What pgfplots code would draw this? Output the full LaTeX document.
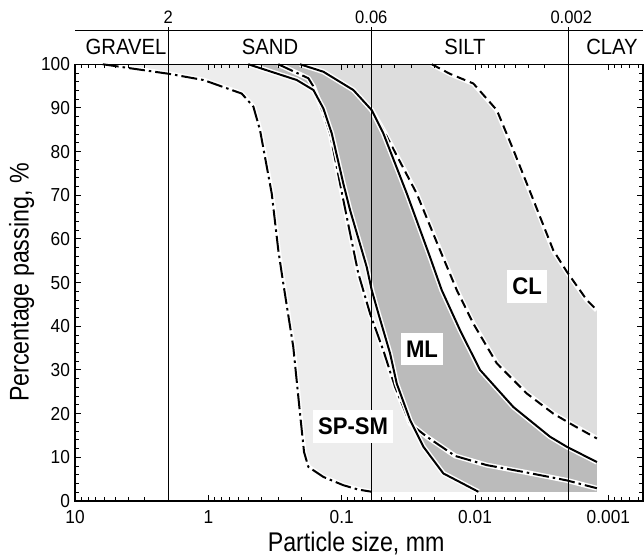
\documentclass[border=0pt]{standalone}
\usepackage{fontspec}
\setmainfont{Liberation Sans}[FakeStretch=0.92]
\newfontfamily\labfont{Liberation Sans}[FakeStretch=0.86]
\usepackage{pgfplots}
\pgfplotsset{compat=1.18}
\newcommand\ticksize{\fontsize{18.8bp}{20bp}\selectfont}
\newcommand\labsize{\labfont\fontsize{27bp}{29bp}\selectfont}
\newcommand\catsize{\fontsize{22bp}{24bp}\selectfont}
\newcommand\bndsize{\fontsize{18bp}{20bp}\selectfont}
\newcommand\boldsize{\fontsize{24bp}{26bp}\selectfont\bfseries}
\definecolor{spfill}{HTML}{EDEDED}
\definecolor{mlfill}{HTML}{BBBBBB}
\definecolor{clfill}{HTML}{DDDDDD}
\tikzset{
  halo/.style={white, line width=5bp, line join=round},
  curve/.style={black, line width=2bp, line join=round},
  dashdot/.style={dash pattern=on 16bp off 4bp on 2.5bp off 4bp},
  dashedcl/.style={dash pattern=on 9bp off 5bp},
}
\begin{document}
\begin{tikzpicture}
\begin{axis}[
  name=ax, scale only axis, width=568bp, height=436.7bp,
  xmode=log, x dir=reverse, xmin=0.00055, xmax=10, ymin=0, ymax=100,
  xtick={0.001,0.01,0.1,1,10}, xticklabels={0.001,0.01,0.1,1,10},
  minor xtick={0.0006,0.0007,0.0008,0.0009,0.002,0.003,0.004,0.005,0.006,0.007,0.008,0.009,0.02,0.03,0.04,0.05,0.06,0.07,0.08,0.09,0.2,0.3,0.4,0.5,0.6,0.7,0.8,0.9,2,3,4,5,6,7,8,9},
  ytick={0,10,...,100}, minor y tick num=4,
  tick align=inside, major tick length=6bp, minor tick length=4bp,
  every tick/.style={black, line width=0.9bp},
  axis line style={line width=1.3bp},
  clip=false, axis on top,
  ticklabel style={font=\ticksize, inner sep=1bp},
  /pgf/number format/assume math mode=true,
  xticklabel style={anchor=base, yshift=-23bp},
  yticklabel style={anchor=east, xshift=-4bp},
  xlabel={Particle size, mm}, ylabel={Percentage passing, \%},
  label style={font=\labsize},
  xlabel style={at={(axis description cs:0.495,-0.1150)}, anchor=base},
  ylabel style={at={(axis description cs:-0.0819,0.5)}, anchor=base},
]
% ---- fills ----
\addplot[fill=spfill, draw=none] coordinates {
 (6.2,100) (1.96,97.8) (1.09,96.4) (0.563,93.3) (0.46,90.3) (0.41,84.9) (0.335,70.4) (0.299,57.4) (0.277,50.6) (0.231,35.3) (0.2055,20.0) (0.1918,11.2) (0.178,7.8) (0.1374,5.5) (0.0973,3.6) (0.0751,2.6) (0.0596,2.1)
 (0.00944,2.1) (0.0173,6.3) (0.0244,12.4) (0.0307,18.5) (0.0387,26.9) (0.0434,33.8) (0.0531,42.9) (0.0596,48.3) (0.065,53.6) (0.0866,66.6) (0.0973,72.7) (0.1189,84.2) (0.1374,89.9) (0.163,94.1) (0.2176,96.4) (0.502,100)
} --cycle;
\addplot[fill=clfill, draw=none] coordinates {
 (0.2055,100) (0.1374,98.3) (0.0818,94.1) (0.0596,89.5)
 (0.0473,84.2) (0.0274,70.4) (0.0183,57.4) (0.01372,48.3) (0.0103,40.6) (0.00687,31.5) (0.00409,24.6) (0.00259,20.0) (0.00183,17.3) (0.00122,14.3)
 (0.00122,43.7) (0.00145,46.0) (0.00205,52.5) (0.00259,57.4) (0.00365,68.9) (0.00516,80.4) (0.00687,89.5) (0.0103,95.6) (0.0154,97.8) (0.0211,100)
} --cycle;
\addplot[fill=mlfill, draw=none] coordinates {
 (0.502,100) (0.2176,96.4) (0.163,94.1) (0.1374,89.9) (0.1189,84.2) (0.0973,72.7) (0.0866,66.6) (0.065,53.6) (0.0596,48.3) (0.0531,42.9) (0.0434,33.8) (0.0387,26.9) (0.0307,18.5) (0.0244,12.4) (0.0173,6.3) (0.00944,2.1)
 (0.00122,2.1) (0.00122,8.9) (0.00205,12.4) (0.00274,14.7) (0.00516,21.5) (0.00918,30.0) (0.01296,39.1) (0.0178,48.3) (0.0218,55.9) (0.0325,70.4) (0.0488,84.2) (0.0596,89.5) (0.0818,94.1) (0.1374,98.3) (0.2055,100)
} --cycle;
% ---- SP-SM curves (dash-dot) ----
\addplot[halo] coordinates {(6.2,100) (1.96,97.8) (1.09,96.4) (0.563,93.3) (0.46,90.3) (0.41,84.9) (0.335,70.4) (0.299,57.4) (0.277,50.6) (0.231,35.3) (0.2055,20.0) (0.1918,11.2) (0.178,7.8) (0.1374,5.5) (0.0973,3.6) (0.0751,2.6) (0.0596,2.1)};
\addplot[curve, dashdot] coordinates {(6.2,100) (1.96,97.8) (1.09,96.4) (0.563,93.3) (0.46,90.3) (0.41,84.9) (0.335,70.4) (0.299,57.4) (0.277,50.6) (0.231,35.3) (0.2055,20.0) (0.1918,11.2) (0.178,7.8) (0.1374,5.5) (0.0973,3.6) (0.0751,2.6) (0.0596,2.1)};
\addplot[halo] coordinates {(0.299,100) (0.178,96.8) (0.163,94.9) (0.1374,88.8) (0.1224,84.2) (0.103,72.7) (0.0866,61.3) (0.0751,52.1) (0.0613,42.9) (0.0488,34.5) (0.0398,26.1) (0.0307,17.7) (0.023,14.7) (0.0141,10.3) (0.00817,8.2) (0.00409,6.5) (0.00205,4.7) (0.00122,2.9)};
\addplot[curve, dashdot] coordinates {(0.299,100) (0.178,96.8) (0.163,94.9) (0.1374,88.8) (0.1224,84.2) (0.103,72.7) (0.0866,61.3) (0.0751,52.1) (0.0613,42.9) (0.0488,34.5) (0.0398,26.1) (0.0307,17.7) (0.023,14.7) (0.0141,10.3) (0.00817,8.2) (0.00409,6.5) (0.00205,4.7) (0.00122,2.9)};
% ---- CL curves (dashed) ----
\addplot[halo] coordinates {(0.0596,89.5) (0.0473,84.2) (0.0274,70.4) (0.0183,57.4) (0.01372,48.3) (0.0103,40.6) (0.00687,31.5) (0.00409,24.6) (0.00259,20.0) (0.00183,17.3) (0.00122,14.3)};
\addplot[curve, dashedcl] coordinates {(0.0596,89.5) (0.0473,84.2) (0.0274,70.4) (0.0183,57.4) (0.01372,48.3) (0.0103,40.6) (0.00687,31.5) (0.00409,24.6) (0.00259,20.0) (0.00183,17.3) (0.00122,14.3)};
\addplot[halo] coordinates {(0.0211,100) (0.0154,97.8) (0.0103,95.6) (0.00687,89.5) (0.00516,80.4) (0.00365,68.9) (0.00259,57.4) (0.00205,52.5) (0.00145,46.0) (0.00122,43.7)};
\addplot[curve, dashedcl] coordinates {(0.0211,100) (0.0154,97.8) (0.0103,95.6) (0.00687,89.5) (0.00516,80.4) (0.00365,68.9) (0.00259,57.4) (0.00205,52.5) (0.00145,46.0) (0.00122,43.7)};
% ---- ML curves (solid) ----
\addplot[halo] coordinates {(0.502,100) (0.2176,96.4) (0.163,94.1) (0.1374,89.9) (0.1189,84.2) (0.0973,72.7) (0.0866,66.6) (0.065,53.6) (0.0596,48.3) (0.0531,42.9) (0.0434,33.8) (0.0387,26.9) (0.0307,18.5) (0.0244,12.4) (0.0173,6.3) (0.00944,2.1)};
\addplot[curve] coordinates {(0.502,100) (0.2176,96.4) (0.163,94.1) (0.1374,89.9) (0.1189,84.2) (0.0973,72.7) (0.0866,66.6) (0.065,53.6) (0.0596,48.3) (0.0531,42.9) (0.0434,33.8) (0.0387,26.9) (0.0307,18.5) (0.0244,12.4) (0.0173,6.3) (0.00944,2.1)};
\addplot[halo] coordinates {(0.2055,100) (0.1374,98.3) (0.0818,94.1) (0.0596,89.5) (0.0488,84.2) (0.0325,70.4) (0.0218,55.9) (0.0178,48.3) (0.01296,39.1) (0.00918,30.0) (0.00516,21.5) (0.00274,14.7) (0.00205,12.4) (0.00122,8.9)};
\addplot[curve] coordinates {(0.2055,100) (0.1374,98.3) (0.0818,94.1) (0.0596,89.5) (0.0488,84.2) (0.0325,70.4) (0.0218,55.9) (0.0178,48.3) (0.01296,39.1) (0.00918,30.0) (0.00516,21.5) (0.00274,14.7) (0.00205,12.4) (0.00122,8.9)};
% ---- classification boundaries ----
\addplot[black, line width=1.1bp] coordinates {(2,0) (2,108.6)};
\addplot[black, line width=1.1bp] coordinates {(0.06,0) (0.06,108.6)};
\addplot[black, line width=1.1bp] coordinates {(0.002,0) (0.002,108.6)};
\addplot[black, line width=1.1bp] coordinates {(10,107.7) (0.00055,107.7)};
% ---- texts ----
\node[font=\bndsize] at (axis cs:2,110.8) {2};
\node[font=\bndsize] at (axis cs:0.06,110.8) {0.06};
\node[font=\bndsize, xshift=3bp] at (axis cs:0.002,110.8) {0.002};
\node[font=\catsize] at (axis cs:4.15,104) {GRAVEL};
\node[font=\catsize] at (axis cs:0.345,104) {SAND};
\node[font=\catsize] at (axis cs:0.0119,104) {SILT};
\node[font=\catsize] at (axis cs:0.00094,104) {CLAY};
\node[font=\boldsize, fill=white, inner xsep=5bp, inner ysep=8bp] at (axis cs:0.0822,17.1) {SP-SM};
\node[font=\boldsize, fill=white, inner xsep=5bp, inner ysep=8bp] at (axis cs:0.025,34.8) {ML};
\node[font=\boldsize, fill=white, inner xsep=5bp, inner ysep=8bp] at (axis cs:0.00407,49.2) {CL};
\end{axis}
\pgfresetboundingbox
\path ([shift={(-75.1bp,-55.3bp)}]ax.south west) rectangle ([shift={(1bp,64.3bp)}]ax.north east);
\end{tikzpicture}
\end{document}
